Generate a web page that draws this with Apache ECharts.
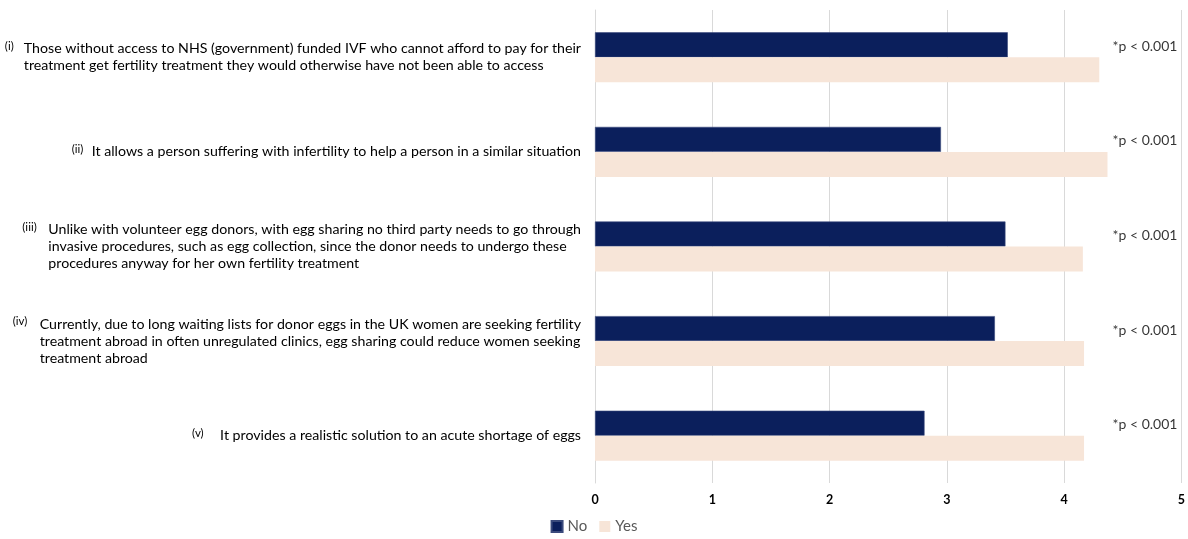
<!DOCTYPE html>
<html>
<head>
<meta charset="utf-8">
<title>Egg sharing – agreement scores</title>
<script src="https://cdn.jsdelivr.net/npm/echarts@6/dist/echarts.min.js"></script>
<style>
  html, body { margin: 0; padding: 0; background: #fff; }
  #chart { width: 1188px; height: 539px; }
</style>
</head>
<body>
<div id="chart"></div>
<script>
// Statement numbers and their wrapped wording (one entry per line)
const numerals = ['(i)', '(ii)', '(iii)', '(iv)', '(v)'];
const statements = [
  ['Those without access to NHS (government) funded IVF who cannot afford to pay for their',
   'treatment get fertility treatment they would otherwise have not been able to access'],
  ['It allows a person suffering with infertility to help a person in a similar situation'],
  ['Unlike with volunteer egg donors, with egg sharing no third party needs to go through',
   'invasive procedures, such as egg collection, since the donor needs to undergo these',
   'procedures anyway for her own fertility treatment'],
  ['Currently, due to long waiting lists for donor eggs in the UK women are seeking fertility',
   'treatment abroad in often unregulated clinics, egg sharing could reduce women seeking',
   'treatment abroad'],
  ['It provides a realistic solution to an acute shortage of eggs']
];
const categories = numerals.map(function (n, i) { return 'c' + i; });

// Mean scores by group
const noValues = [3.52, 2.95, 3.50, 3.41, 2.81];
const yesValues = [4.30, 4.37, 4.16, 4.17, 4.17];

// Significance notes, placed on the value axis at pValueX
const pValues = ['*p < 0.001', '*p < 0.001', '*p < 0.001', '*p < 0.001', '*p < 0.001'];
const pValueX = 4.69;

const axisTicks = [0, 1, 2, 3, 4, 5];

const FONT = 'Lato';
const chart = echarts.init(document.getElementById('chart'), null, { renderer: 'canvas' });

// numeral column widths (pixels) per statement
function numStyle(w) {
  return { width: w, fontSize: 11.5, color: '#000', fontFamily: FONT, verticalAlign: 'top', align: 'left', padding: [0, 0, 1, 0] };
}
const numeralRich = {
  n0: numStyle(19),
  n1: numStyle(20),
  n2: numStyle(26),
  n3: numStyle(27),
  n4: numStyle(28),
  t:  { fontSize: 14.2, color: '#000', fontFamily: FONT, lineHeight: 17, align: 'left' }
};

function labelFor(idx) {
  const lines = statements[idx];
  return lines.map(function (line, li) {
    const num = li === 0 ? numerals[idx] : '';
    return '{n' + idx + '|' + num + '}{t|' + line + '}';
  }).join('\n');
}

chart.setOption({
  animation: false,
  textStyle: { fontFamily: FONT },
  grid: { left: 595, right: 6, top: 10, bottom: 56, containLabel: false },
  legend: {
    bottom: 0,
    left: 'center',
    itemWidth: 11,
    itemHeight: 11,
    itemGap: 12,
    icon: 'rect',
    textStyle: { color: '#595959', fontSize: 15, fontFamily: FONT },
    data: ['No', 'Yes']
  },
  xAxis: {
    type: 'value',
    min: axisTicks[0],
    max: axisTicks[axisTicks.length - 1],
    interval: 1,
    axisLine: { show: false },
    axisTick: { show: false },
    splitLine: { lineStyle: { color: '#d9d9d9', width: 1 } },
    axisLabel: { color: '#000', fontWeight: 'bold', fontSize: 12.5, margin: 10, fontFamily: FONT }
  },
  yAxis: {
    type: 'category',
    inverse: true,
    data: categories,
    axisLine: { show: true, lineStyle: { color: '#d9d9d9' } },
    axisTick: { show: false },
    axisLabel: {
      margin: 14,
      align: 'right',
      formatter: function (v, idx) { return labelFor(idx); },
      rich: numeralRich
    }
  },
  series: [
    {
      name: 'No',
      type: 'bar',
      data: noValues,
      barWidth: 25,
      barGap: '0%',
      itemStyle: { color: '#0b1f5c', borderColor: '#3a4a7c', borderWidth: 0.6 }
    },
    {
      name: 'Yes',
      type: 'bar',
      data: yesValues,
      barWidth: 25,
      barGap: '0%',
      itemStyle: { color: '#f7e5d8' }
    },
    {
      name: 'p',
      type: 'scatter',
      symbolSize: 0,
      silent: true,
      data: pValues.map(function (p, i) { return [pValueX, categories[i], p]; }),
      label: {
        show: true,
        position: 'inside',
        offset: [0, -11],
        formatter: function (d) { return d.value[2]; },
        color: '#000',
        fontSize: 14,
        fontFamily: FONT
      }
    }
  ]
});
</script>
</body>
</html>
